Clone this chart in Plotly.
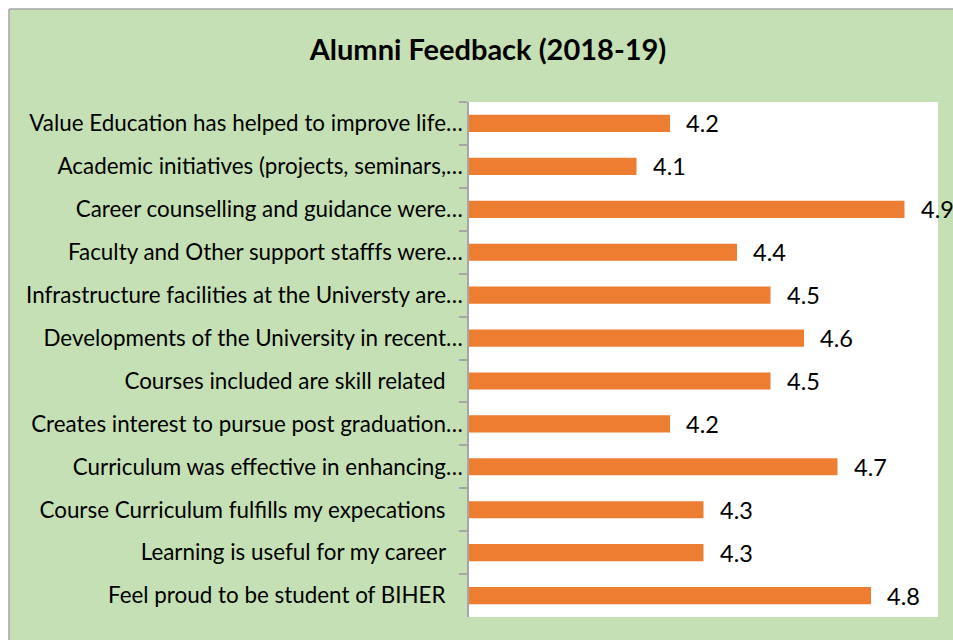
import plotly.graph_objects as go

categories = [
    "Value Education has helped to improve life…",
    "Academic initiatives (projects, seminars,…",
    "Career counselling and guidance were…",
    "Faculty and Other support stafffs were…",
    "Infrastructure facilities at the Universty are…",
    "Developments of the University in recent…",
    "Courses included are skill related\u00a0\u00a0\u00a0",
    "Creates interest to pursue post graduation…",
    "Curriculum was effective in enhancing…",
    "Course Curriculum fulfills my expecations\u00a0\u00a0\u00a0",
    "Learning is useful for my career\u00a0\u00a0\u00a0",
    "Feel proud to be student of BIHER\u00a0\u00a0\u00a0",
]
values = [4.2, 4.1, 4.9, 4.4, 4.5, 4.6, 4.5, 4.2, 4.7, 4.3, 4.3, 4.8]
value_labels = [f"{v:.1f}" for v in values]
title_text = "Alumni Feedback (2018-19)"

W, H = 953, 640
L, R, T, B = 469, 15, 102, 23
pw, ph = W - L - R, H - T - B


def px_x(p):
    return (p - L) / pw


def px_y(p):
    return (H - B - p) / ph


GREEN = "#C5E0B4"
ORANGE = "#ED7D31"
GRAY = "#A6A6A6"
FONT = "Lato"

fig = go.Figure(
    go.Bar(
        y=categories,
        x=values,
        orientation="h",
        marker=dict(color=ORANGE, line=dict(width=0)),
        width=0.4,
        hoverinfo="x+y",
    )
)

for c, v, t in zip(categories, values, value_labels):
    fig.add_annotation(
        x=v, y=c, xref="x", yref="y", text=t, showarrow=False,
        xanchor="left", yanchor="middle", xshift=14,
        font=dict(family=FONT, size=23.5, color="#000000"),
    )

shapes = [
    # white page margin (top and left strips)
    dict(type="rect", xref="paper", yref="paper", x0=px_x(0), x1=px_x(W + 5),
         y0=px_y(9), y1=px_y(-5), fillcolor="white", line=dict(width=0), layer="above"),
    dict(type="rect", xref="paper", yref="paper", x0=px_x(-5), x1=px_x(9),
         y0=px_y(H + 5), y1=px_y(-5), fillcolor="white", line=dict(width=0), layer="above"),
    # gray chart border
    dict(type="line", xref="paper", yref="paper", x0=px_x(9), x1=px_x(W + 5),
         y0=px_y(9), y1=px_y(9), line=dict(color=GRAY, width=1.5), layer="above"),
    dict(type="line", xref="paper", yref="paper", x0=px_x(9), x1=px_x(9),
         y0=px_y(9), y1=px_y(H + 5), line=dict(color=GRAY, width=1.5), layer="above"),
]

fig.update_layout(
    width=W, height=H,
    margin=dict(l=L, r=R, t=T, b=B),
    paper_bgcolor=GREEN,
    plot_bgcolor="white",
    showlegend=False,
    shapes=shapes,
    title=dict(
        text=f"<b>{title_text}</b>", x=488 / W, xanchor="center",
        y=1 - 50 / H, yanchor="middle", yref="container",
        font=dict(family=FONT, size=29, color="#000000"),
    ),
    bargap=0.6,
    xaxis=dict(range=[3.6, 5.0], visible=False, showgrid=False, zeroline=False),
    yaxis=dict(
        autorange="reversed",
        showline=True, linecolor=GRAY, linewidth=1.5,
        ticks="outside", tickson="boundaries", ticklen=8, tickcolor=GRAY, tickwidth=1.5,
        showgrid=False,
        tickfont=dict(family=FONT, size=22.4, color="#000000"),
    ),
)

fig.write_html("out.html")
